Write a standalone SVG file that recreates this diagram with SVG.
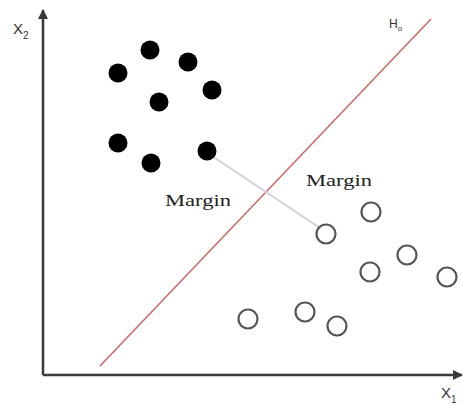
<svg xmlns="http://www.w3.org/2000/svg" width="463" height="405" viewBox="0 0 463 405">
<style>
.axis{stroke:#3a3a3a;stroke-width:2.5;fill:none}
.pos{fill:#000}
.neg{fill:none;stroke:#555;stroke-width:2.2}
.lbl{font-family:"Liberation Sans",Arial,sans-serif;fill:#333}
.mg{font-family:"Liberation Serif","Times New Roman",serif;font-size:17px;fill:#222}
</style>
<defs>
<marker id="arr" viewBox="0 0 10 10" refX="9" refY="5" markerWidth="4" markerHeight="4" orient="auto"><path d="M0,0 L10,5 L0,10 z" fill="#3a3a3a"/></marker>
</defs>
<rect width="463" height="405" fill="#fff"/>
<g id="axes">
<line class="axis" x1="43" y1="375" x2="43" y2="10" marker-end="url(#arr)"/>
<line class="axis" x1="43" y1="375" x2="462" y2="375" marker-end="url(#arr)"/>
<text class="lbl" x="13" y="34" font-size="15">X<tspan font-size="10" dy="5">2</tspan></text>
<text class="lbl" x="441" y="398" font-size="15">X<tspan font-size="10" dy="5">1</tspan></text>
</g>
<g id="connectors">
<line x1="100" y1="366" x2="431" y2="19" stroke="#d06a6a" stroke-width="1.6"/>
<line x1="212" y1="156" x2="320" y2="228" stroke="#d4d0dc" stroke-width="2"/>
</g>
<g id="hyperplane-label"><text class="lbl" x="389" y="28" font-size="12">H<tspan font-size="8" dy="3">o</tspan></text></g>
<g id="positive">
<circle class="pos" cx="150" cy="50" r="9.5"/>
<circle class="pos" cx="188" cy="62" r="9.5"/>
<circle class="pos" cx="118" cy="73" r="9.5"/>
<circle class="pos" cx="212" cy="90" r="9.5"/>
<circle class="pos" cx="159" cy="102" r="9.5"/>
<circle class="pos" cx="118" cy="143" r="9.5"/>
<circle class="pos" cx="151" cy="163" r="9.5"/>
<circle class="pos" cx="207" cy="151" r="9.5"/>
</g>
<g id="negative">
<circle class="neg" cx="371" cy="212" r="9.5"/>
<circle class="neg" cx="326" cy="234" r="9.5"/>
<circle class="neg" cx="407" cy="255" r="9.5"/>
<circle class="neg" cx="370" cy="272" r="9.5"/>
<circle class="neg" cx="447" cy="277" r="9.5"/>
<circle class="neg" cx="248" cy="319" r="9.5"/>
<circle class="neg" cx="305" cy="312" r="9.5"/>
<circle class="neg" cx="337" cy="326" r="9.5"/>
</g>
<g id="margin-left"><text class="mg" x="165" y="206" textLength="66" lengthAdjust="spacingAndGlyphs">Margin</text></g>
<g id="margin-right"><text class="mg" x="306" y="186" textLength="66" lengthAdjust="spacingAndGlyphs">Margin</text></g>
</svg>
